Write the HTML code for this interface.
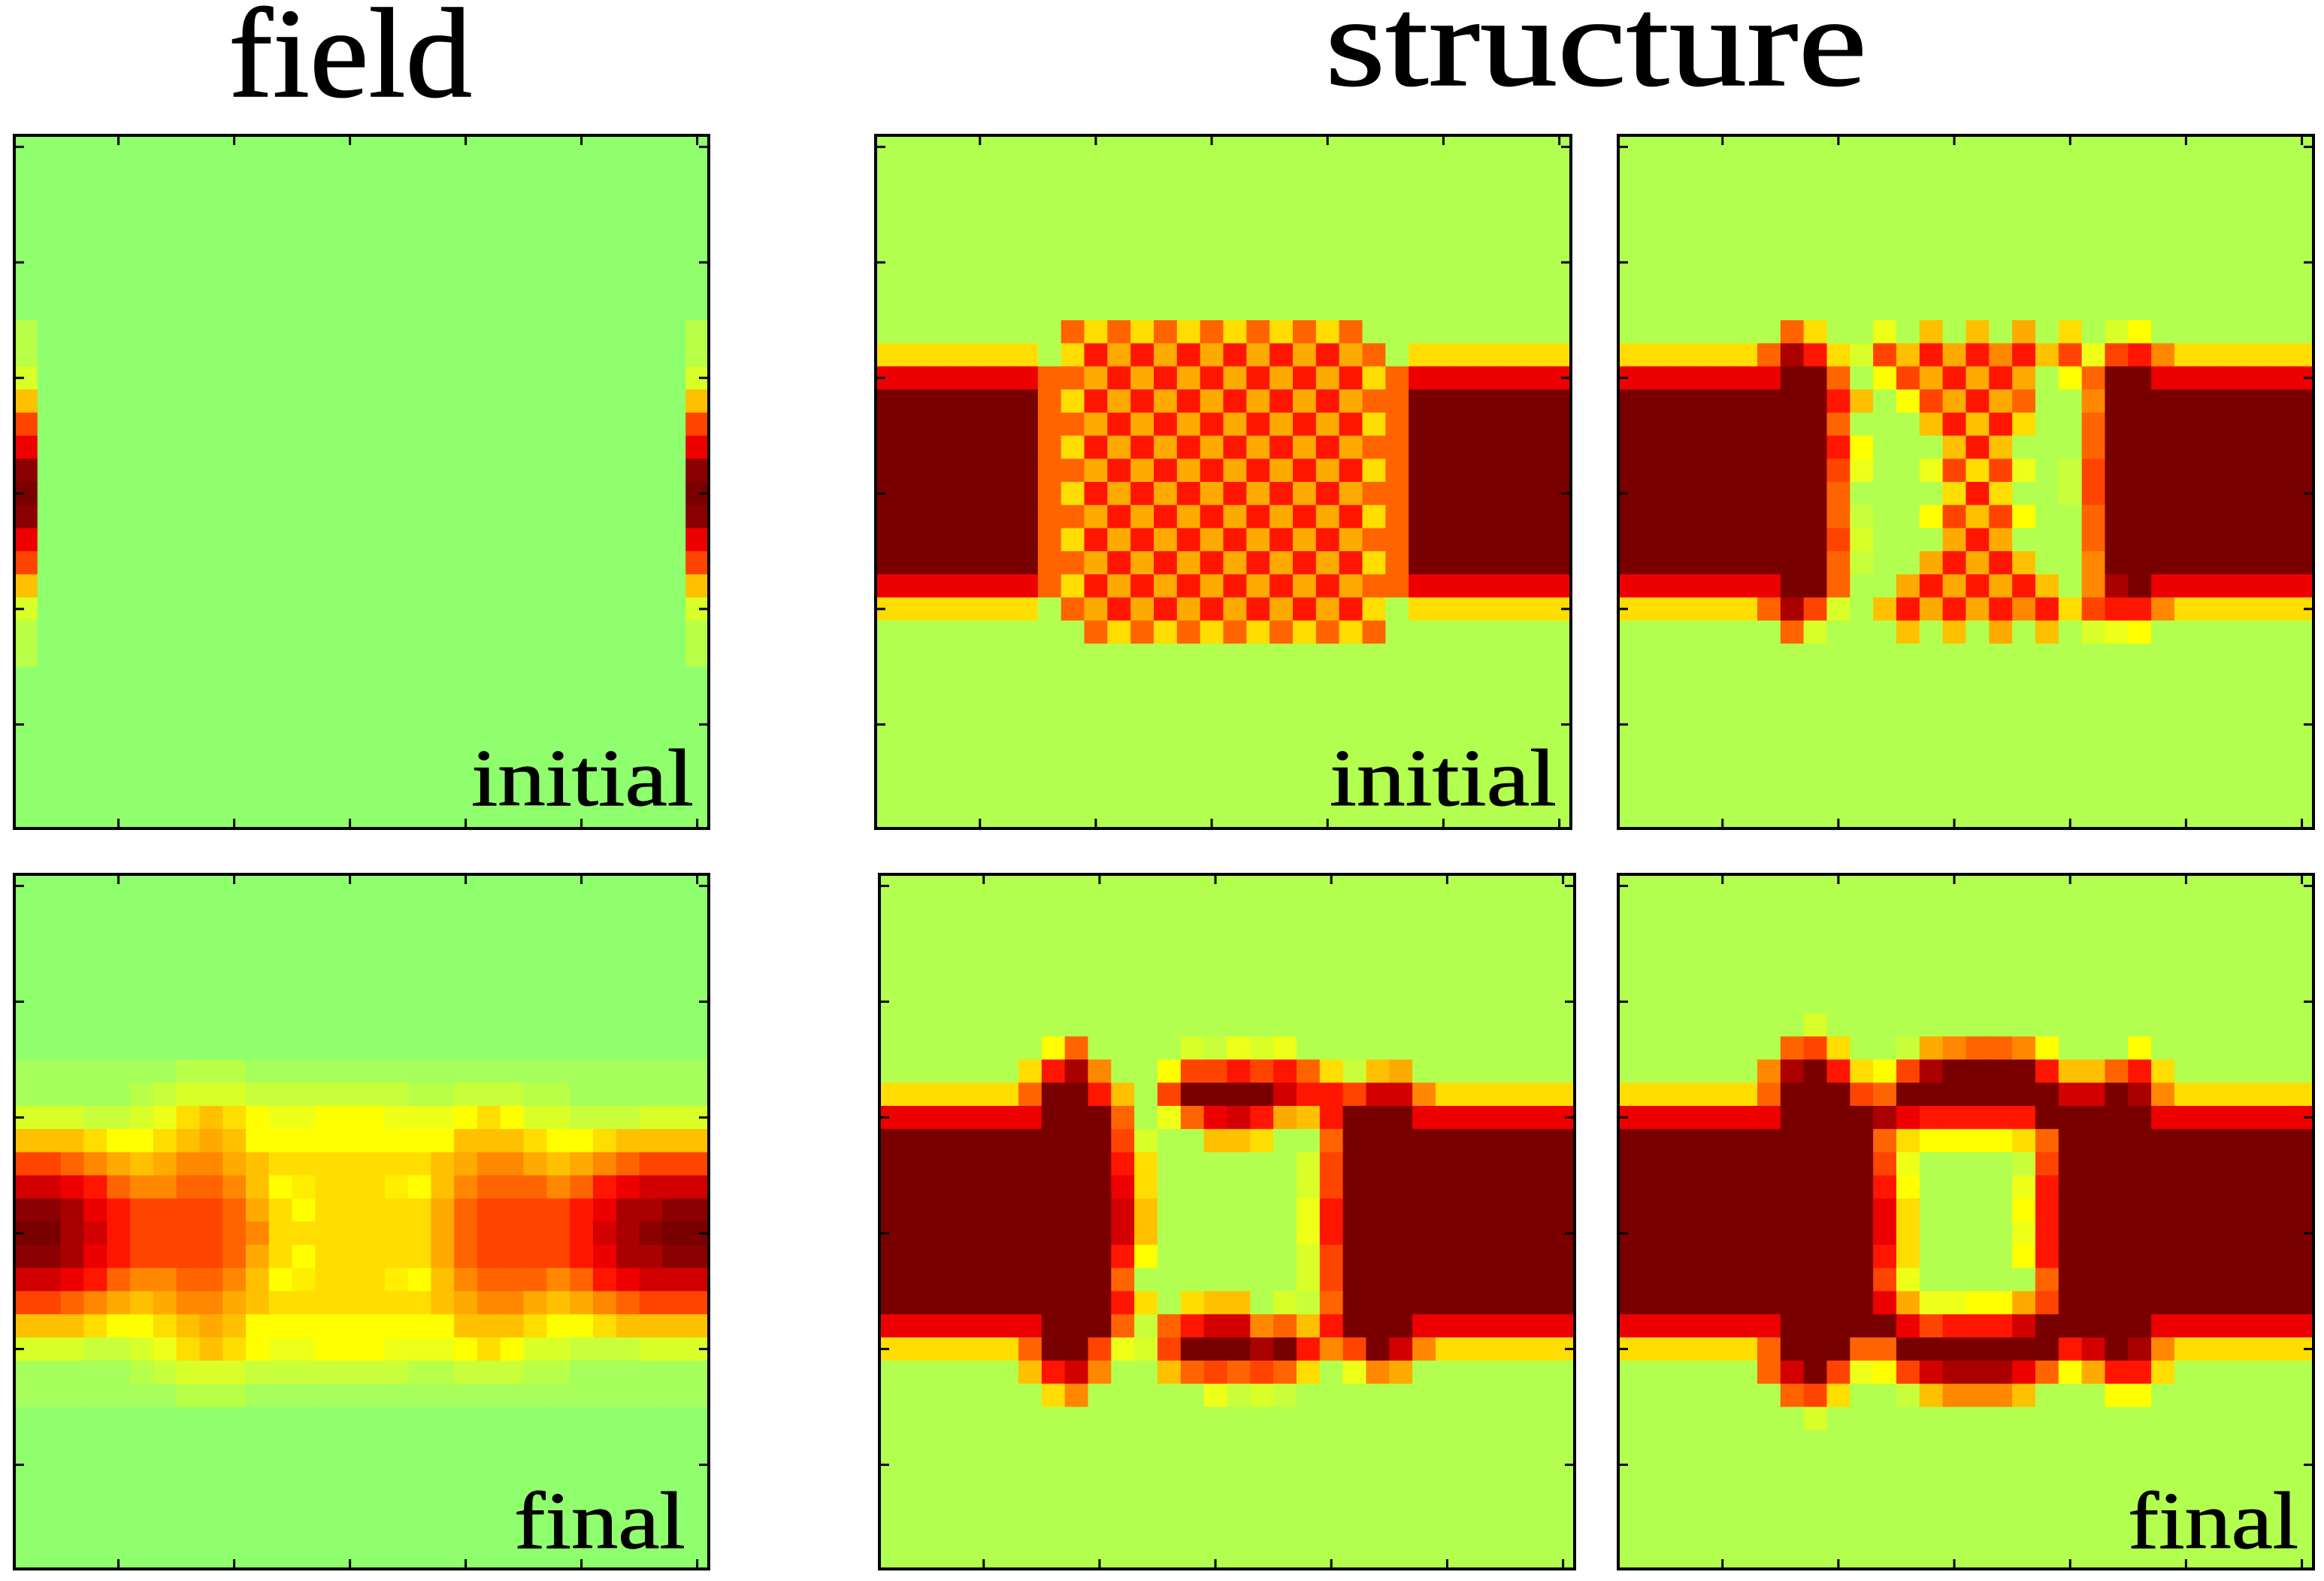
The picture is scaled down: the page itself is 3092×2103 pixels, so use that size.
<!DOCTYPE html>
<html><head><meta charset="utf-8"><title>field / structure</title>
<style>
html,body{margin:0;padding:0;background:#fff;}
svg{display:block;}
text{font-family:"Liberation Serif",serif;fill:#000;}
</style></head>
<body>
<svg id="fig" width="3092" height="2103" viewBox="0 0 3092 2103" xmlns="http://www.w3.org/2000/svg">
<rect x="0" y="0" width="3092" height="2103" fill="#fff"/>
<text x="304" y="128" font-size="170" textLength="324" lengthAdjust="spacingAndGlyphs" stroke="#000" stroke-width="1.5">field</text>
<text x="1763" y="113" font-size="170" textLength="721" lengthAdjust="spacingAndGlyphs" stroke="#000" stroke-width="1.5">structure</text>
<g id="panels"></g>
</svg>
<script>
const palette = {
'.':'#b2ff50', ',':'#90ff6e', 'g':'#a6ff5a', 'h':'#b8ff48',
'1':'#c8ff3a','2':'#d8ff28','3':'#eeff18','4':'#ffff00','Y':'#ffee00','5':'#ffdd00',
'6':'#ffc000','7':'#ffaa00','8':'#ff8800','9':'#ff6400','a':'#ff4400',
'b':'#ff1500','c':'#ee0000','d':'#d20000','e':'#aa0000','E':'#8b0000','f':'#7a0000'
};
const xTicks = [5,10,15,20,25,30];
const yTicks = [5,10,15,20,25,30];
const D = '..............................';
const C = ',,,,,,,,,,,,,,,,,,,,,,,,,,,,,,';

const fieldInitial = [C,C,C,C,C,C,C,C,
'h,,,,,,,,,,,,,,,,,,,,,,,,,,,,h',
'h,,,,,,,,,,,,,,,,,,,,,,,,,,,,h',
'2,,,,,,,,,,,,,,,,,,,,,,,,,,,,2',
'6,,,,,,,,,,,,,,,,,,,,,,,,,,,,6',
'a,,,,,,,,,,,,,,,,,,,,,,,,,,,,a',
'c,,,,,,,,,,,,,,,,,,,,,,,,,,,,c',
'E,,,,,,,,,,,,,,,,,,,,,,,,,,,,E',
'f,,,,,,,,,,,,,,,,,,,,,,,,,,,,f',
'E,,,,,,,,,,,,,,,,,,,,,,,,,,,,E',
'c,,,,,,,,,,,,,,,,,,,,,,,,,,,,c',
'a,,,,,,,,,,,,,,,,,,,,,,,,,,,,a',
'6,,,,,,,,,,,,,,,,,,,,,,,,,,,,6',
'2,,,,,,,,,,,,,,,,,,,,,,,,,,,,2',
'h,,,,,,,,,,,,,,,,,,,,,,,,,,,,h',
'h,,,,,,,,,,,,,,,,,,,,,,,,,,,,h',
C,C,C,C,C,C,C];

const fieldFinal = [C,C,C,C,C,C,C,C,
'ggggggghhhgggggggggggggggggggg',
'gggggh12221111111hh111hhgggggg',
'222112356543344433345422111222',
'666544567644444444466654456666',
'aa9876788765555555678876789aaa',
'ddcb98899864Y555Y46899989bcddd',
'EEecbaaaa97545555579aaaabceeEE',
'ffedbaaaa98555555579aaaabdeEff',
'EEecbaaaa97545555579aaaabceeEE',
'ddcb98899864Y555Y46899989bcddd',
'aa9876788765555555678876789aaa',
'666544567644444444466654456666',
'222112356543344433345422111222',
'gggggh12221111111hh111hhgggggg',
'ggggggghhhgggggggggggggggggggg',
C,C,C,C,C,C,C];

const structInitial = [D,D,D,D,D,D,D,D,
'........9595959595959.........',
'5555555.5b7b7b7b7b7b79.5555555',
'ccccccc997b7b7b7b7b7b59ccccccc',
'fffffff95b7b7b7b7b7b799fffffff',
'fffffff997b7b7b7b7b7b59fffffff',
'fffffff95b7b7b7b7b7b799fffffff',
'fffffff997b7b7b7b7b7b59fffffff',
'fffffff95b7b7b7b7b7b799fffffff',
'fffffff997b7b7b7b7b7b59fffffff',
'fffffff95b7b7b7b7b7b799fffffff',
'fffffff997b7b7b7b7b7b59fffffff',
'ccccccc95b7b7b7b7b7b799ccccccc',
'5555555.97b7b7b7b7b7b5.5555555',
'.........9595959595959........',
D,D,D,D,D,D,D,D];

const structMid = [D,D,D,D,D,D,D,D,
'.......95..3.6.6.7.5.24.......',
'5555559eb52a6b7b8b6a3ab8555555',
'cccccccff9.4a7b7b7.49ffccccccc',
'fffffffffb6.4a7b79..8fffffffff',
'fffffffff9...6b6b5..9fffffffff',
'fffffffffb4...6b6...9fffffffff',
'fffffffffa3..3a5a3.1afffffffff',
'fffffffff9....5b5..1afffffffff',
'fffffffff91..4a6a4..9fffffffff',
'fffffffffa2...7b7...9fffffffff',
'fffffffff91..7b7b6..8fffffffff',
'cccccccff9..7b7b7b6.8efccccccc',
'5555559ea2.6b7b7b8b5abb8555555',
'.......92...6.6.7.6.234.......',
D,D,D,D,D,D,D,D];

const structFinalA = [D,D,D,D,D,D,D,
'.......49....21323............',
'......5be8..4aabab95167.......',
'5555559ffb6.affffdbbadd8555555',
'cccccccfff9.39cdb76bfffccccccc',
'ffffffffffa2..665..9ffffffffff',
'ffffffffffb5......2affffffffff',
'ffffffffffc5......2affffffffff',
'ffffffffffd6......3bffffffffff',
'ffffffffffd6......3bffffffffff',
'ffffffffffb4......2affffffffff',
'ffffffffff9.......2affffffffff',
'ffffffffffb5.566.219ffffffffff',
'cccccccfff919bdd896bfffccccccc',
'5555559ffa32afffefb8afd8555555',
'......6bd8..69a9a95.387.......',
'.......58.....3121............',
D,D,D,D,D,D,D];

const structFinalB = [D,D,D,D,D,D,
'........2.....................',
'.......9a5..1789984...4.......',
'......8efb54aeffffb669b5......',
'5555559fffa9fffffffddfe8555555',
'cccccccffffecbbbbbfffffccccccc',
'fffffffffff95444459fffffffffff',
'fffffffffffa3....1afffffffffff',
'fffffffffffb4....3bfffffffffff',
'fffffffffffc5....4bfffffffffff',
'fffffffffffc5....3bfffffffffff',
'fffffffffffb5....4bfffffffffff',
'fffffffffffa3.....9fffffffffff',
'fffffffffffc733447afffffffffff',
'cccccccfffffcabbbdfffffccccccc',
'5555559fff99fffffffbdfe8555555',
'......9dfa34adeeec947bb5......',
'.......9a5..168886...44.......',
'........2.....................',
D,D,D,D,D,D];

const panels = [
  {name:'field-initial-map', grid:fieldInitial, x:19, y:180, w:924, h:922, label:'initial', lx:627, lw:296, ly:1071},
  {name:'structure-initial-map', grid:structInitial, x:1165, y:180, w:925, h:922, label:'initial', lx:1769, lw:302, ly:1071},
  {name:'structure-intermediate-map', grid:structMid, x:2153, y:180, w:925, h:922, label:null},
  {name:'field-final-map', grid:fieldFinal, x:19, y:1163, w:924, h:924, label:'final', lx:684, lw:228, ly:2059},
  {name:'structure-final-a-map', grid:structFinalA, x:1170, y:1163, w:925, h:924, label:null},
  {name:'structure-final-b-map', grid:structFinalB, x:2153, y:1163, w:925, h:924, label:'final', lx:2831, lw:227, ly:2059}
];

const NS = 'http://www.w3.org/2000/svg';
const root = document.getElementById('panels');
function mk(tag, attrs){ const e=document.createElementNS(NS,tag); for(const k in attrs) e.setAttribute(k,attrs[k]); return e; }

panels.forEach(p=>{
  const g = mk('g',{});
  
  
  const rows = p.grid.length, cols = p.grid[0].length;
  const xs = c => p.x + c * p.w / cols;
  const ys = r => p.y + r * p.h / rows;
  for(let r=0;r<rows;r++){
    for(let c=0;c<cols;c++){
      const ch = p.grid[r][c];
      const rect = mk('rect',{x:xs(c), y:ys(r), width:(xs(c+1)-xs(c))+0.6, height:(ys(r+1)-ys(r))+0.6, fill:palette[ch]||'#fff'});
      
      
      g.appendChild(rect);
    }
  }
  const tx = t => p.x + (t-0.5)/30 * p.w;
  const ty = t => p.y + (30.5-t)/30 * p.h;
  xTicks.forEach(t=>{
    const a = mk('line',{x1:tx(t),x2:tx(t),y1:p.y,y2:p.y+13,stroke:'#000','stroke-width':3});
    
    
    g.appendChild(a);
    const b = mk('line',{x1:tx(t),x2:tx(t),y1:p.y+p.h,y2:p.y+p.h-13,stroke:'#000','stroke-width':3});
    
    
    g.appendChild(b);
  });
  yTicks.forEach(t=>{
    const a = mk('line',{x1:p.x,x2:p.x+13,y1:ty(t),y2:ty(t),stroke:'#000','stroke-width':3});
    
    
    g.appendChild(a);
    const b = mk('line',{x1:p.x+p.w,x2:p.x+p.w-13,y1:ty(t),y2:ty(t),stroke:'#000','stroke-width':3});
    
    
    g.appendChild(b);
  });
  const frame = mk('rect',{x:p.x,y:p.y,width:p.w,height:p.h,fill:'none',stroke:'#000','stroke-width':4});
  
  
  g.appendChild(frame);
  if(p.label){
    const t = mk('text',{x:p.lx,y:p.ly,'font-size':108,textLength:p.lw,lengthAdjust:'spacingAndGlyphs',stroke:'#000','stroke-width':1});
    t.textContent = p.label;
    
    
    g.appendChild(t);
  }
  root.appendChild(g);
});
</script>
</body></html>
